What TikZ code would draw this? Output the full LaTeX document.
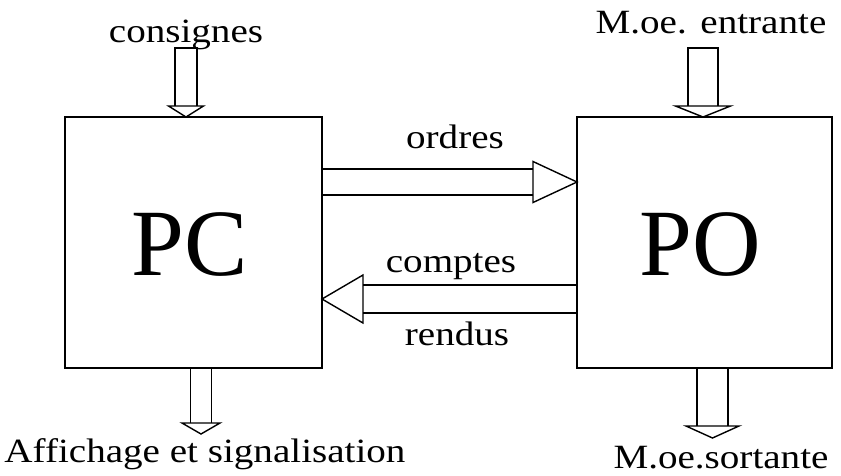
\documentclass[tikz,border=0pt]{standalone}
\usepackage{fontspec}
\setmainfont{Liberation Serif}
\newfontfamily\widefont[FakeStretch=1.15]{Liberation Serif}
\usetikzlibrary{calc}
\tikzset{
  box/.style={draw, line width=1.5pt, inner sep=0pt, rectangle},
  big/.style={inner sep=0pt, font=\fontsize{95}{95}\selectfont},
  lbl/.style={anchor=base, inner sep=0pt, font=\widefont\fontsize{34}{34}\selectfont},
  blk/.style={draw, line width=1.4pt, line join=miter}
}
% vertical block arrow: #1 centre x, #2 top, #3 head base, #4 tip, #5 shaft half, #6 head half
\newcommand\blkdown[6]{%
  \draw[blk] ({#1-#5},#3) -- ({#1-#5},#2) -- ({#1+#5},#2) -- ({#1+#5},#3);
  \draw[blk] ({#1-#6},#3) -- ({#1+#6},#3) -- (#1,#4) -- cycle;
}
% horizontal block arrow: #1 centre y, #2 start x, #3 head base x, #4 tip x, #5 shaft half, #6 head half
\newcommand\blkhor[6]{%
  \draw[blk] (#3,{#1-#5}) -- (#2,{#1-#5}) (#2,{#1+#5}) -- (#3,{#1+#5});
  \draw[blk] (#3,{#1-#6}) -- (#3,{#1+#6}) -- (#4,#1) -- cycle;
}
\begin{document}
\begin{tikzpicture}[x=1pt,y=-1pt]
\useasboundingbox (0,0) rectangle (841,475);
\node[box, minimum width=257pt, minimum height=251pt] (PC) at (193.5,242.5) {};
\node[box, minimum width=255pt, minimum height=251pt] (PO) at (704.5,242.5) {};
\node[big] (PCt) at (190,245) {PC};
\node[big] (POt) at (700,245) {PO};

\node[lbl] (cons) at (186,42) {consignes};
\node[lbl] (ent) at (711,33) {M.oe.\hspace{0.4em}entrante};
\node[lbl] (ord) at (455,148) {ordres};
\node[lbl] (cpt) at (451,272) {comptes};
\node[lbl] (ren) at (457,345) {rendus};
\node[lbl] (aff) at (205,462) {Affichage et signalisation};
\node[lbl] (sor) at (721,468) {M.oe.sortante};

% input arrows
\blkdown{186}{48}{106}{117}{11}{17.5}
\blkdown{703}{48}{106}{117}{15}{27.5}
% output arrows
\blkdown{201}{368}{423}{434}{10.5}{19}
\blkdown{712.5}{368}{426}{438}{15.5}{26.5}
% ordres
\blkhor{182}{322}{533}{577}{13}{20.5}
% comptes rendus
\blkhor{299}{577}{363}{322}{14}{24}
\end{tikzpicture}
\end{document}
